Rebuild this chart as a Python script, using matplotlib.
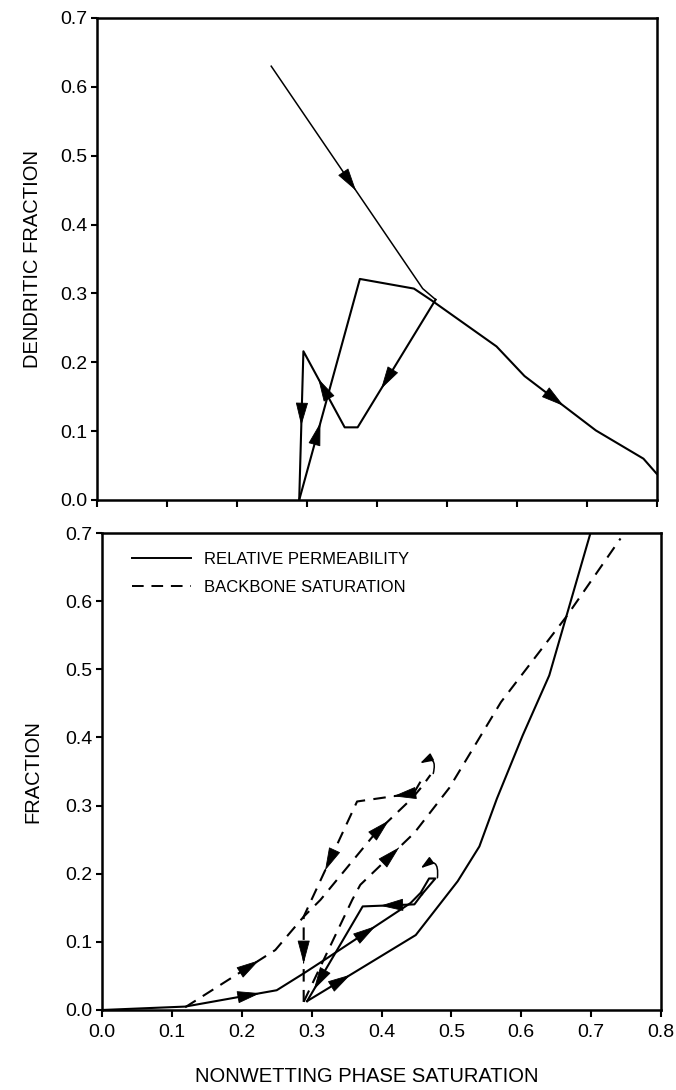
import matplotlib.pyplot as plt
from matplotlib.lines import Line2D

plt.rcParams['font.family'] = ['Liberation Sans', 'DejaVu Sans']

# --- upper panel: dendritic fraction vs saturation ---
drain1_s = [0.249, 0.4655, 0.484]
drain1_d = [0.630, 0.307, 0.291]
imb_s = [0.484, 0.3725, 0.354, 0.295, 0.289]
imb_d = [0.291, 0.1055, 0.1055, 0.216, 0.0]
drain2_s = [0.289, 0.3757, 0.453, 0.478, 0.571, 0.611, 0.713, 0.781, 0.800]
drain2_d = [0.0, 0.321, 0.307, 0.290, 0.223, 0.180, 0.101, 0.060, 0.038]

# --- lower panel: relative permeability (solid) ---
kr1_s = [0.0, 0.119, 0.250, 0.289, 0.322, 0.4416, 0.456, 0.468, 0.477, 0.458]
kr1_f = [0.0, 0.005, 0.029, 0.054, 0.076, 0.157, 0.172, 0.193, 0.193, 0.170]
krimb_s = [0.458, 0.447, 0.373, 0.2935]
krimb_f = [0.170, 0.155, 0.152, 0.013]
kr2_s = [0.2935, 0.449, 0.509, 0.540, 0.565, 0.602, 0.640, 0.699]
kr2_f = [0.013, 0.110, 0.189, 0.240, 0.310, 0.403, 0.491, 0.700]
kr_hook_s = [0.480, 0.456]
kr_hook_f = [0.194, 0.208]

# --- lower panel: backbone saturation (dashed) ---
bb1_s = [0.119, 0.248, 0.2886, 0.3125, 0.390, 0.444, 0.458, 0.470]
bb1_f = [0.004, 0.088, 0.137, 0.1615, 0.258, 0.311, 0.328, 0.345]
bbimb_s = [0.4557, 0.446, 0.365, 0.2886, 0.2886]
bbimb_f = [0.335, 0.318, 0.306, 0.137, 0.012]
bb2_s = [0.2886, 0.358, 0.3696, 0.447, 0.497, 0.571, 0.665, 0.742]
bb2_f = [0.012, 0.1615, 0.1837, 0.260, 0.326, 0.452, 0.578, 0.692]
bb_hook_s = [0.474, 0.455]
bb_hook_f = [0.347, 0.362]

xticks = [0.0, 0.1, 0.2, 0.3, 0.4, 0.5, 0.6, 0.7, 0.8]
yticks = [0.0, 0.1, 0.2, 0.3, 0.4, 0.5, 0.6, 0.7]

DASH = (0, (6, 4))


def arrow_on(ax, xs, ys, seg, frac):
    # filled arrowhead sitting on segment `seg`, tip at `frac` of its length
    x0, y0, x1, y1 = xs[seg], ys[seg], xs[seg + 1], ys[seg + 1]
    tip = (x0 + frac * (x1 - x0), y0 + frac * (y1 - y0))
    back = (x0 + (frac - 0.01) * (x1 - x0), y0 + (frac - 0.01) * (y1 - y0))
    ax.annotate('', xy=tip, xytext=back,
                arrowprops=dict(arrowstyle='-|>,head_length=0.75,head_width=0.2',
                                mutation_scale=20, fc='k', ec='k', lw=0.6,
                                shrinkA=0, shrinkB=0))


def hook(ax, xs, ys, rad):
    # small curled arrow marking a reversal point
    ax.annotate('', xy=(xs[1], ys[1]), xytext=(xs[0], ys[0]),
                arrowprops=dict(arrowstyle='-|>,head_length=0.7,head_width=0.22',
                                mutation_scale=11, fc='k', ec='k', lw=1.1,
                                connectionstyle='arc3,rad=%g' % rad,
                                shrinkA=0, shrinkB=0))


def style(ax):
    ax.set_xlim(0, 0.8)
    ax.set_ylim(0, 0.7)
    ax.set_xticks(xticks)
    ax.set_yticks(yticks)
    ax.set_yticklabels(['%.1f' % v for v in yticks])
    for sp in ax.spines.values():
        sp.set_linewidth(1.8)
    ax.tick_params(direction='out', top=False, right=False, width=1.5,
                   labelsize=14)
    ax.tick_params(axis='y', length=4, pad=3)
    ax.tick_params(axis='x', length=5, pad=5)


fig = plt.figure(figsize=(6.76, 10.9), dpi=100)
ax1 = fig.add_axes([0.1435, 0.5413, 0.828, 0.4422])
ax2 = fig.add_axes([0.1509, 0.0734, 0.827, 0.4376])

# upper panel
ax1.plot(drain1_s, drain1_d, color='k', lw=1.1)
ax1.plot(imb_s, imb_d, color='k', lw=1.5)
ax1.plot(drain2_s, drain2_d, color='k', lw=1.5)
arrow_on(ax1, drain1_s, drain1_d, 0, 0.56)
arrow_on(ax1, imb_s, imb_d, 0, 0.70)
arrow_on(ax1, imb_s, imb_d, 2, 0.64)
arrow_on(ax1, imb_s, imb_d, 3, 0.50)
arrow_on(ax1, drain2_s, drain2_d, 0, 0.35)
arrow_on(ax1, drain2_s, drain2_d, 5, 0.55)
style(ax1)
ax1.tick_params(axis='x', labelbottom=False)
ax1.set_ylabel('DENDRITIC FRACTION', fontsize=14.5)
ax1.yaxis.set_label_coords(-0.098, 0.5)

# lower panel
ax2.plot(kr1_s, kr1_f, color='k', lw=1.5)
ax2.plot(krimb_s, krimb_f, color='k', lw=1.5)
ax2.plot(kr2_s, kr2_f, color='k', lw=1.5)
ax2.plot(bb1_s, bb1_f, color='k', lw=1.5, linestyle=DASH)
ax2.plot(bbimb_s, bbimb_f, color='k', lw=1.5, linestyle=DASH)
ax2.plot(bb2_s, bb2_f, color='k', lw=1.5, linestyle=DASH)

arrow_on(ax2, kr1_s, kr1_f, 1, 0.82)
arrow_on(ax2, kr1_s, kr1_f, 4, 0.58)
arrow_on(ax2, krimb_s, krimb_f, 1, 0.66)
arrow_on(ax2, krimb_s, krimb_f, 2, 0.88)
arrow_on(ax2, kr2_s, kr2_f, 0, 0.40)
arrow_on(ax2, bb1_s, bb1_f, 0, 0.82)
arrow_on(ax2, bb1_s, bb1_f, 4, 0.38)
arrow_on(ax2, bbimb_s, bbimb_f, 1, 0.36)
arrow_on(ax2, bbimb_s, bbimb_f, 2, 0.60)
arrow_on(ax2, bbimb_s, bbimb_f, 3, 0.55)
arrow_on(ax2, bb2_s, bb2_f, 2, 0.72)
hook(ax2, kr_hook_s, kr_hook_f, 1.1)
hook(ax2, bb_hook_s, bb_hook_f, 1.1)

style(ax2)
ax2.set_ylabel('FRACTION', fontsize=14.5)
ax2.yaxis.set_label_coords(-0.107, 0.5)
ax2.set_xlabel('NONWETTING PHASE SATURATION', fontsize=14.5)
ax2.xaxis.set_label_coords(0.474, -0.12)

handles = [Line2D([], [], color='k', lw=1.4),
           Line2D([], [], color='k', lw=1.4, linestyle=DASH)]
ax2.legend(handles, ['RELATIVE PERMEABILITY', 'BACKBONE SATURATION'],
           loc='upper left', bbox_to_anchor=(0.054, 0.96), frameon=False,
           fontsize=12, handlelength=3.5, handletextpad=0.8,
           labelspacing=0.75, borderaxespad=0, borderpad=0)

fig.savefig('out.png', dpi=100)
